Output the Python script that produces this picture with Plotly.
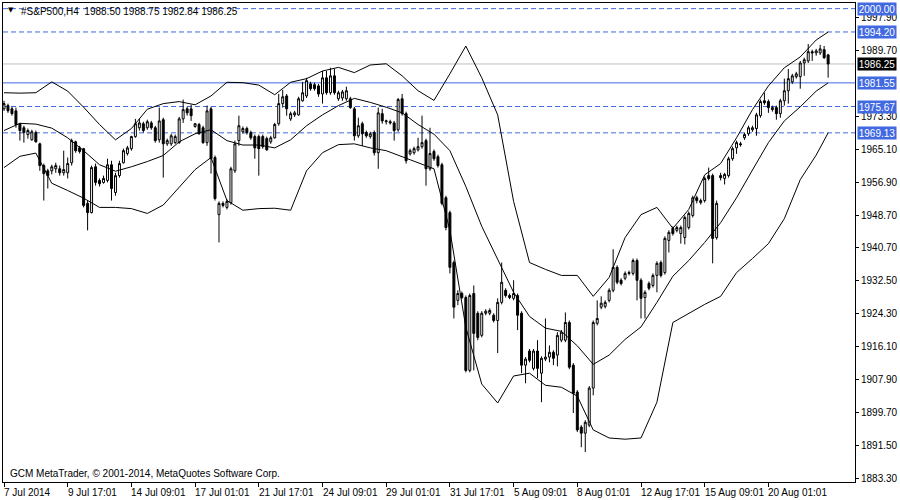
import plotly.graph_objects as go

# ---------------- data ----------------
symbol_title = "#S&P500,H4  1988.50 1988.75 1982.84 1986.25"
copyright_text = "GCM MetaTrader, \u00a9 2001-2014, MetaQuotes Software Corp."

open_ = [1975.1, 1975.9, 1975.1, 1974.6, 1971.4, 1970.4, 1968.7, 1967.4, 1969.2, 1966.4,
         1961.0, 1959.7, 1959.7, 1960.2, 1960.2, 1959.2, 1959.2, 1961.7, 1966.9, 1965.4,
         1965.2, 1951.6, 1949.3, 1960.7, 1957.3, 1956.8, 1957.3, 1961.2, 1954.3, 1958.5,
         1961.7, 1964.0, 1965.2, 1968.2, 1970.4, 1971.4, 1970.4, 1971.6, 1970.4, 1967.4,
         1972.4, 1966.4, 1966.4, 1966.7, 1966.7, 1972.6, 1975.1, 1975.1, 1970.7, 1971.2,
         1970.4, 1966.7, 1975.1, 1963.0, 1948.8, 1951.6, 1950.6, 1951.8, 1959.7, 1967.2,
         1969.4, 1970.2, 1969.2, 1968.2, 1968.2, 1968.2, 1967.7, 1966.9, 1967.9, 1971.4,
         1976.4, 1978.3, 1972.6, 1973.6, 1973.6, 1977.1, 1978.3, 1981.3, 1981.1, 1980.8,
         1978.8, 1982.8, 1979.1, 1983.3, 1977.6, 1977.8, 1977.6, 1977.6, 1975.1, 1968.4,
         1971.4, 1969.2, 1968.2, 1969.2, 1964.2, 1973.9, 1971.9, 1971.9, 1971.6, 1969.9,
         1977.6, 1973.9, 1963.9, 1964.2, 1964.9, 1965.7, 1967.2, 1960.2, 1964.5, 1963.2,
         1961.2, 1953.0, 1949.3, 1936.9, 1927.5, 1929.2, 1928.2, 1910.1, 1929.2, 1924.3,
         1918.8, 1924.3, 1924.3, 1923.8, 1922.5, 1927.0, 1930.0, 1928.7, 1928.0, 1928.7,
         1924.3, 1911.4, 1914.9, 1910.6, 1914.9, 1909.4, 1912.9, 1913.4, 1914.6, 1913.9,
         1917.6, 1917.6, 1922.0, 1911.4, 1904.7, 1896.0, 1894.5, 1896.5, 1905.7, 1921.8,
         1925.8, 1926.0, 1927.5, 1930.0, 1935.7, 1932.5, 1933.0, 1934.2, 1934.2, 1937.4,
         1932.5, 1928.2, 1931.7, 1931.2, 1933.7, 1936.9, 1934.4, 1942.4, 1945.4, 1944.9,
         1944.1, 1943.1, 1945.6, 1948.6, 1953.0, 1951.8, 1952.3, 1958.5, 1958.5, 1943.1,
         1958.5, 1957.8, 1958.5, 1962.7, 1965.4, 1966.4, 1967.9, 1968.9, 1969.9, 1970.2,
         1973.4, 1977.1, 1976.9, 1974.9, 1975.4, 1973.9, 1977.1, 1979.6, 1981.8, 1983.1,
         1983.1, 1986.5, 1987.0, 1989.3, 1989.0, 1989.0, 1989.8, 1988.50]

high = [1977.1, 1976.4, 1975.6, 1975.4, 1971.6, 1970.9, 1970.2, 1969.9, 1969.7, 1966.7,
        1961.5, 1960.2, 1961.2, 1961.7, 1961.0, 1964.7, 1963.0, 1967.7, 1967.2, 1965.9,
        1965.4, 1952.3, 1961.0, 1961.5, 1957.8, 1958.5, 1962.7, 1962.2, 1959.2, 1962.2,
        1965.2, 1965.9, 1968.4, 1972.6, 1972.6, 1971.9, 1972.4, 1972.1, 1970.9, 1975.4,
        1972.9, 1967.7, 1968.9, 1968.7, 1973.1, 1977.4, 1975.6, 1976.1, 1971.6, 1971.6,
        1970.9, 1975.9, 1975.6, 1963.5, 1952.1, 1952.1, 1952.6, 1960.7, 1967.2, 1973.4,
        1970.7, 1970.7, 1969.7, 1968.7, 1968.7, 1968.7, 1968.2, 1968.4, 1971.6, 1978.8,
        1979.8, 1978.8, 1974.4, 1974.6, 1978.1, 1981.8, 1982.8, 1981.8, 1981.6, 1981.3,
        1984.5, 1984.5, 1985.3, 1985.0, 1979.6, 1979.8, 1980.6, 1978.1, 1975.6, 1972.9,
        1971.9, 1969.7, 1969.4, 1969.7, 1975.4, 1975.1, 1972.4, 1972.4, 1972.1, 1977.8,
        1978.8, 1974.4, 1965.2, 1965.7, 1967.9, 1973.4, 1967.7, 1970.4, 1965.0, 1963.7,
        1961.7, 1953.5, 1949.8, 1937.4, 1930.0, 1929.7, 1928.7, 1929.2, 1931.2, 1924.8,
        1924.8, 1925.3, 1925.5, 1924.3, 1928.0, 1936.9, 1930.5, 1929.2, 1932.5, 1929.2,
        1924.8, 1913.4, 1915.4, 1915.4, 1917.6, 1913.6, 1923.0, 1916.3, 1915.1, 1919.6,
        1920.1, 1924.5, 1922.5, 1911.9, 1905.2, 1896.5, 1897.7, 1906.2, 1922.5, 1927.5,
        1928.5, 1927.5, 1930.5, 1940.2, 1936.2, 1933.0, 1934.7, 1934.9, 1937.9, 1937.9,
        1933.0, 1930.0, 1932.2, 1934.2, 1937.2, 1937.4, 1943.4, 1944.9, 1945.9, 1946.1,
        1946.1, 1948.6, 1949.6, 1953.5, 1953.5, 1952.8, 1958.3, 1960.5, 1959.0, 1952.3,
        1959.2, 1959.2, 1963.2, 1965.7, 1967.2, 1966.9, 1969.2, 1970.9, 1970.9, 1974.1,
        1977.4, 1979.1, 1977.4, 1975.9, 1975.9, 1977.6, 1982.6, 1985.0, 1983.8, 1984.3,
        1987.0, 1987.8, 1991.2, 1989.8, 1990.0, 1991.0, 1990.7, 1988.75]

low = [1974.6, 1974.1, 1973.4, 1970.4, 1967.2, 1966.7, 1967.7, 1967.2, 1966.7, 1959.7,
       1952.3, 1955.3, 1958.8, 1959.2, 1958.5, 1958.5, 1957.8, 1961.0, 1964.2, 1964.0,
       1950.6, 1944.9, 1949.1, 1956.0, 1955.8, 1956.5, 1956.8, 1952.3, 1953.5, 1958.0,
       1961.5, 1963.5, 1964.7, 1967.9, 1969.7, 1969.2, 1969.9, 1969.9, 1966.7, 1966.7,
       1958.0, 1965.9, 1965.9, 1966.4, 1966.4, 1971.6, 1973.4, 1972.1, 1970.4, 1968.7,
       1966.4, 1965.9, 1959.0, 1952.3, 1941.9, 1950.6, 1950.1, 1951.3, 1959.2, 1965.9,
       1968.9, 1968.7, 1967.4, 1962.7, 1958.5, 1965.2, 1964.7, 1966.4, 1967.7, 1970.9,
       1975.4, 1973.4, 1972.1, 1973.1, 1973.4, 1976.9, 1977.8, 1979.6, 1979.6, 1978.1,
       1976.4, 1978.6, 1978.6, 1978.6, 1977.1, 1977.1, 1977.1, 1975.1, 1967.2, 1967.9,
       1965.9, 1967.9, 1967.7, 1963.5, 1960.2, 1971.4, 1971.2, 1971.2, 1967.2, 1969.4,
       1973.4, 1961.5, 1963.5, 1963.7, 1964.5, 1965.2, 1956.0, 1959.7, 1962.2, 1960.5,
       1951.1, 1944.9, 1934.2, 1923.0, 1926.3, 1927.8, 1909.6, 1909.6, 1910.1, 1917.6,
       1918.3, 1923.8, 1923.8, 1922.0, 1914.4, 1926.5, 1928.2, 1927.8, 1927.5, 1920.1,
       1909.4, 1906.9, 1912.1, 1910.1, 1908.2, 1902.2, 1912.4, 1912.1, 1911.4, 1911.1,
       1917.1, 1917.1, 1910.4, 1899.5, 1894.8, 1891.0, 1889.8, 1896.0, 1903.9, 1921.3,
       1925.3, 1925.5, 1927.0, 1929.5, 1931.5, 1931.2, 1932.5, 1933.7, 1933.7, 1927.5,
       1923.0, 1923.0, 1930.0, 1930.7, 1929.5, 1933.2, 1933.9, 1939.4, 1943.6, 1944.4,
       1941.6, 1941.4, 1945.1, 1948.1, 1951.6, 1951.3, 1951.8, 1957.3, 1936.7, 1942.6,
       1957.3, 1956.3, 1958.0, 1962.2, 1963.9, 1965.7, 1967.4, 1968.4, 1969.4, 1968.4,
       1972.9, 1976.1, 1974.1, 1974.4, 1972.4, 1972.9, 1975.9, 1976.4, 1981.3, 1982.6,
       1980.1, 1983.3, 1986.5, 1987.0, 1988.3, 1988.5, 1987.5, 1982.84]

close = [1976.4, 1974.6, 1973.9, 1971.2, 1969.7, 1969.2, 1969.7, 1969.4, 1966.9, 1961.0,
         1959.0, 1958.5, 1960.7, 1961.0, 1959.2, 1960.0, 1961.5, 1967.2, 1964.7, 1964.5,
         1951.1, 1949.3, 1960.5, 1956.8, 1956.5, 1957.8, 1961.2, 1955.3, 1958.5, 1961.5,
         1964.7, 1965.4, 1968.2, 1971.4, 1971.6, 1969.7, 1971.9, 1970.4, 1967.2, 1972.1,
         1966.4, 1967.2, 1968.4, 1968.2, 1972.6, 1974.9, 1974.1, 1973.4, 1971.4, 1968.9,
         1966.7, 1974.6, 1962.7, 1952.8, 1951.6, 1951.1, 1952.1, 1960.2, 1966.4, 1970.9,
         1970.2, 1969.2, 1967.9, 1965.4, 1965.2, 1965.7, 1964.9, 1967.9, 1971.2, 1976.4,
         1978.1, 1975.1, 1973.9, 1974.1, 1977.6, 1979.1, 1982.1, 1980.1, 1980.1, 1978.8,
         1982.8, 1979.1, 1983.3, 1979.1, 1979.1, 1979.3, 1979.6, 1975.4, 1968.4, 1970.9,
         1968.9, 1968.4, 1968.9, 1964.2, 1974.1, 1972.1, 1972.1, 1971.6, 1969.7, 1977.4,
         1973.9, 1962.2, 1964.7, 1965.2, 1965.7, 1966.7, 1960.2, 1964.0, 1962.7, 1961.0,
         1951.6, 1945.6, 1935.7, 1925.8, 1929.2, 1928.2, 1910.1, 1928.7, 1919.3, 1918.3,
         1924.3, 1924.8, 1925.0, 1922.5, 1927.0, 1932.0, 1928.7, 1928.2, 1929.2, 1923.8,
         1911.4, 1912.9, 1912.6, 1914.9, 1910.6, 1913.1, 1913.4, 1914.6, 1913.1, 1918.8,
         1919.6, 1922.0, 1910.9, 1904.4, 1895.3, 1894.5, 1897.2, 1905.7, 1922.0, 1923.0,
         1926.8, 1927.0, 1930.0, 1935.7, 1932.0, 1931.7, 1934.2, 1934.4, 1937.4, 1932.5,
         1928.0, 1929.5, 1930.5, 1933.7, 1936.7, 1933.7, 1942.9, 1944.4, 1944.1, 1945.6,
         1945.6, 1948.1, 1949.1, 1953.0, 1952.3, 1952.3, 1957.8, 1957.8, 1942.9, 1951.6,
         1958.0, 1958.8, 1962.7, 1965.2, 1966.7, 1966.2, 1968.7, 1970.4, 1970.4, 1973.6,
         1976.9, 1976.6, 1975.4, 1975.4, 1973.9, 1977.1, 1979.6, 1982.6, 1983.3, 1983.8,
         1986.5, 1987.3, 1989.3, 1989.0, 1989.5, 1990.0, 1987.8, 1986.25]

bars = list(range(len(close)))

# Bollinger bands, read every 4 bars
band_bars = list(range(0, 205, 4)) + [207]
upper_band = [1979.1, 1979.0, 1979.1, 1981.8, 1979.5, 1975.5, 1971.2, 1967.4, 1970.2, 1975.0,
              1976.4, 1976.9, 1976.1, 1978.3, 1981.7, 1981.6, 1981.0, 1978.6, 1981.7, 1982.6,
              1984.5, 1985.4, 1984.1, 1986.0, 1986.3, 1983.3, 1979.6, 1977.2, 1983.8, 1990.7,
              1982.8, 1973.6, 1952.1, 1936.9, 1935.2, 1933.7, 1933.7, 1928.5, 1933.2, 1943.1,
              1948.8, 1950.6, 1945.4, 1950.1, 1958.7, 1961.5, 1967.9, 1974.9, 1980.8, 1985.3,
              1988.0, 1992.2, 1994.2]
middle_band = [1969.7, 1971.5, 1971.3, 1970.3, 1967.9, 1964.7, 1961.2, 1959.6, 1960.7, 1962.0,
               1963.5, 1966.9, 1968.9, 1969.9, 1967.2, 1966.1, 1966.1, 1965.4, 1967.4, 1970.9,
               1973.6, 1975.9, 1977.7, 1976.7, 1975.5, 1974.1, 1971.2, 1968.8, 1964.7, 1955.8,
               1945.9, 1937.7, 1929.5, 1923.5, 1920.6, 1919.8, 1916.2, 1911.6, 1913.9, 1917.8,
               1920.9, 1927.0, 1933.5, 1937.4, 1941.9, 1946.8, 1953.0, 1959.9, 1966.7, 1972.1,
               1975.6, 1979.5, 1981.55]
lower_band = [1960.5, 1963.3, 1964.1, 1956.6, 1954.8, 1952.9, 1950.6, 1950.6, 1950.3, 1949.1,
              1951.2, 1955.5, 1960.0, 1963.0, 1952.3, 1949.9, 1950.3, 1950.4, 1949.9, 1959.7,
              1964.2, 1966.2, 1966.4, 1965.4, 1964.7, 1963.2, 1961.7, 1960.2, 1944.9, 1920.8,
              1906.7, 1902.0, 1908.7, 1909.4, 1906.4, 1905.9, 1903.7, 1895.3, 1893.3, 1893.0,
              1893.3, 1902.2, 1922.0, 1924.3, 1926.5, 1928.5, 1934.4, 1937.9, 1941.6, 1947.8,
              1957.5, 1963.6, 1969.13]

# horizontal levels
dashed_levels = [2000.00, 1994.20, 1975.67, 1969.13]
solid_level = 1981.55
bid_level = 1986.25

# axis ticks
price_ticks = [1997.90, 1989.70, 1973.30, 1965.10, 1956.90, 1948.70, 1940.70,
               1932.50, 1924.30, 1916.10, 1907.90, 1899.70, 1891.50, 1883.30]
time_tick_bars = [0, 16, 32, 48, 64, 80, 96, 112, 128, 144, 160, 176, 192]
time_tick_labels = ["7 Jul 2014", "9 Jul 17:01", "14 Jul 09:01", "17 Jul 01:01",
                    "21 Jul 17:01", "24 Jul 09:01", "29 Jul 01:01", "31 Jul 17:01",
                    "5 Aug 09:01", "8 Aug 01:01", "12 Aug 17:01", "15 Aug 09:01",
                    "20 Aug 01:01"]

# ---------------- figure ----------------
FONT = "Liberation Sans"
BLUE = "#4169E1"

fig = go.Figure()

fig.add_trace(go.Candlestick(
    x=bars, open=open_, high=high, low=low, close=close,
    increasing=dict(line=dict(color="black", width=1), fillcolor="white"),
    decreasing=dict(line=dict(color="black", width=1), fillcolor="black"),
    whiskerwidth=0, hoverinfo="skip", showlegend=False,
))

for band in (upper_band, middle_band, lower_band):
    fig.add_trace(go.Scatter(x=band_bars, y=band, mode="lines",
                             line=dict(color="black", width=1),
                             hoverinfo="skip", showlegend=False))

shapes = []
for lv in dashed_levels:
    shapes.append(dict(type="line", xref="paper", x0=0, x1=1, yref="y", y0=lv, y1=lv,
                       line=dict(color=BLUE, width=1, dash="5px,3px"), layer="below"))
shapes.append(dict(type="line", xref="paper", x0=0, x1=1, yref="y", y0=solid_level, y1=solid_level,
                   line=dict(color=BLUE, width=1), layer="below"))
shapes.append(dict(type="line", xref="paper", x0=0, x1=1, yref="y", y0=bid_level, y1=bid_level,
                   line=dict(color="#C0C0C0", width=1), layer="below"))

annotations = []
# price level boxes on right axis
for lv in dashed_levels + [solid_level]:
    annotations.append(dict(xref="paper", x=1, xanchor="left", xshift=2, yref="y", y=lv,
                            yanchor="middle", text=f"{lv:.2f}", showarrow=False,
                            font=dict(family=FONT, size=10, color="white"),
                            bgcolor=BLUE, width=38, height=12, borderpad=0, align="center"))
annotations.append(dict(xref="paper", x=1, xanchor="left", xshift=2, yref="y", y=bid_level,
                        yanchor="middle", text=f"{bid_level:.2f}", showarrow=False,
                        font=dict(family=FONT, size=10, color="white"),
                        bgcolor="black", width=38, height=12, borderpad=0, align="center"))
# time labels
for b, lab in zip(time_tick_bars, time_tick_labels):
    annotations.append(dict(xref="x", x=b, xanchor="left", xshift=-2, yref="paper", y=0,
                            yanchor="top", yshift=-3, text=lab, showarrow=False,
                            font=dict(family=FONT, size=10, color="black")))
# title and copyright
annotations.append(dict(xref="paper", x=0, xanchor="left", xshift=3, yref="paper", y=1,
                        yanchor="top", yshift=-1, text="\u25bc", showarrow=False,
                        font=dict(family="DejaVu Sans", size=7, color="black")))
annotations.append(dict(xref="paper", x=0, xanchor="left", xshift=16, yref="paper", y=1,
                        yanchor="top", yshift=-1, text=symbol_title, showarrow=False,
                        font=dict(family=FONT, size=10, color="black")))
annotations.append(dict(xref="paper", x=0, xanchor="left", xshift=5, yref="paper", y=0,
                        yanchor="bottom", yshift=1, text=copyright_text, showarrow=False,
                        font=dict(family=FONT, size=10, color="black")))

fig.update_layout(
    width=900, height=500,
    margin=dict(l=2, r=42, t=2, b=18),
    paper_bgcolor="white", plot_bgcolor="white",
    showlegend=False,
    font=dict(family=FONT, size=10, color="black"),
    shapes=shapes, annotations=annotations,
    xaxis=dict(range=[-0.25, 213.75], showgrid=False, zeroline=False,
               rangeslider=dict(visible=False),
               tickmode="array", tickvals=time_tick_bars, showticklabels=False,
               ticks="outside", ticklen=4, tickcolor="black",
               showline=True, linecolor="black", linewidth=1, mirror=True),
    yaxis=dict(range=[1882.36, 2001.40], side="right", showgrid=False, zeroline=False,
               tickmode="array", tickvals=price_ticks,
               ticktext=[f"{v:.2f}" for v in price_ticks],
               ticks="outside", ticklen=3, tickcolor="black",
               tickfont=dict(family=FONT, size=10, color="black"),
               showline=True, linecolor="black", linewidth=1, mirror=True),
)

fig.write_html("out.html", config={"displayModeBar": False},
               post_script="document.body.style.margin='0px';")
